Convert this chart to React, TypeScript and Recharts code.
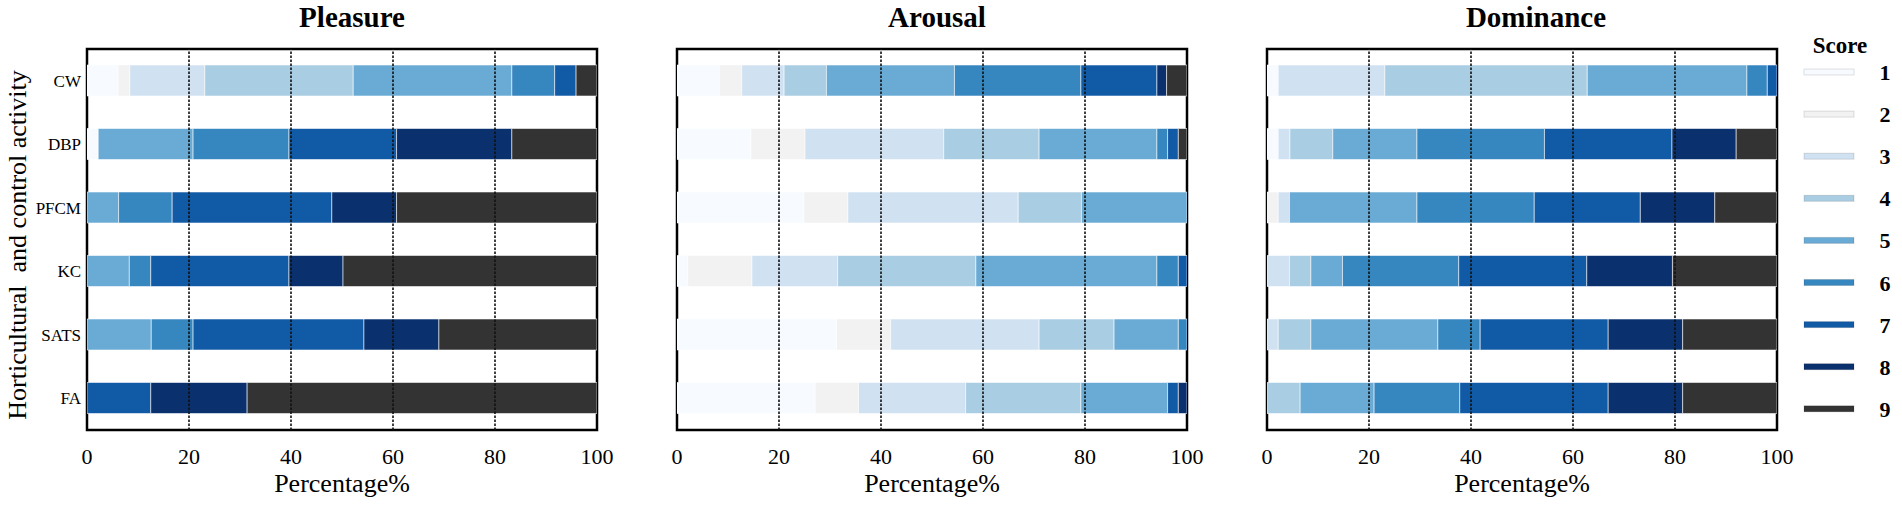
import React from "react";
import {
  BarChart,
  Bar,
  XAxis,
  YAxis,
  ReferenceLine,
  ReferenceArea,
} from "recharts";

// rows, top to bottom
const categories = ["CW", "DBP", "PFCM", "KC", "SATS", "FA"];
const scores = [1, 2, 3, 4, 5, 6, 7, 8, 9];
const percentTicks = [0, 20, 40, 60, 80, 100];
const gridTicks = [20, 40, 60, 80];

// percentage of each score (1..9) per row
const pleasure = [
  [6.1, 2.3, 14.7, 29.1, 31.1, 8.4, 4.2, 0, 4.1],
  [2.2, 0, 0, 0, 18.6, 18.8, 21.1, 22.6, 16.7],
  [0, 0, 0, 0, 6.2, 10.5, 31.3, 12.7, 39.3],
  [0, 0, 0, 0, 8.3, 4.2, 27.1, 10.6, 49.8],
  [0, 0, 0, 0, 12.6, 8.2, 33.5, 14.7, 31.0],
  [0, 0, 0, 0, 0, 0, 12.5, 18.9, 68.6],
];

const arousal = [
  [8.3, 4.4, 8.3, 8.3, 25.1, 24.8, 14.9, 1.9, 4.0],
  [14.5, 10.6, 27.2, 18.7, 23.1, 2.1, 2.1, 0, 1.7],
  [24.9, 8.6, 33.4, 12.4, 20.7, 0, 0, 0, 0],
  [2.1, 12.6, 16.8, 27.1, 35.5, 4.2, 1.7, 0, 0],
  [31.3, 10.6, 29.1, 14.7, 12.6, 1.7, 0, 0, 0],
  [27.1, 8.5, 21.0, 22.6, 17.0, 0, 2.1, 1.7, 0],
];

const dominance = [
  [2.2, 0, 20.9, 39.7, 31.3, 4.0, 1.9, 0, 0],
  [2.2, 0, 2.3, 8.4, 16.5, 25.0, 25.0, 12.6, 8.0],
  [0, 2.2, 2.2, 0, 25.0, 23.0, 20.8, 14.6, 12.2],
  [0, 0, 4.4, 4.2, 6.2, 22.8, 25.1, 16.8, 20.5],
  [0, 0, 2.2, 6.4, 24.9, 8.3, 25.1, 14.6, 18.5],
  [0, 0, 0, 6.5, 14.5, 16.8, 29.1, 14.6, 18.5],
];

const SCORE_COLORS = [
  "#f7fbff",
  "#f2f2f2",
  "#d0e1f2",
  "#a9cde3",
  "#69abd5",
  "#3686c0",
  "#105aa6",
  "#0a316e",
  "#333333",
];

const FONT = '"Liberation Serif", "Times New Roman", serif';

const buildRows = (values: number[][]) =>
  categories.map((name, i) => {
    const row: Record<string, string | number> = { name };
    scores.forEach((s, j) => {
      row[`s${s}`] = values[i][j];
    });
    return row;
  });

interface PanelProps {
  values: number[][];
  left: number;
  width: number;
  showCategories: boolean;
}

const Panel = ({ values, left, width, showCategories }: PanelProps) => {
  const data = buildRows(values);
  return (
    <div style={{ position: "absolute", left, top: 0 }}>
      <BarChart
        width={width}
        height={505}
        data={data}
        layout="vertical"
        margin={{ top: 49, right: 23, bottom: 0, left: showCategories ? 7 : 57 }}
      >
        <XAxis
          type="number"
          domain={[0, 100]}
          ticks={percentTicks}
          allowDataOverflow
          height={75}
          tickLine={false}
          tickMargin={12}
          axisLine={false}
          tick={{ fontSize: 22, fill: "#000", fontFamily: FONT }}
          label={{
            value: "Percentage%",
            position: "insideBottom",
            offset: 13,
            style: { fontSize: 26, fill: "#000", fontFamily: FONT },
          }}
        />
        <YAxis
          type="category"
          dataKey="name"
          width={showCategories ? 80 : 0}
          tickLine={false}
          tickMargin={0}
          axisLine={false}
          tick={showCategories ? { fontSize: 17, fill: "#000", fontFamily: FONT } : false}
        />
        {scores.map((s, j) => (
          <Bar
            key={s}
            dataKey={`s${s}`}
            stackId="score"
            barSize={31}
            fill={SCORE_COLORS[j]}
            stroke="#ffffff"
            strokeOpacity={0.55}
            strokeWidth={1}
            isAnimationActive={false}
          />
        ))}
        {gridTicks.map((t) => (
          <ReferenceLine
            key={t}
            x={t}
            stroke="#111"
            strokeWidth={1.6}
            strokeDasharray="2.5 1.5"
          />
        ))}
        {/* plot frame */}
        <ReferenceArea
          x1={0}
          x2={100}
          fill="none"
          fillOpacity={0}
          stroke="#000"
          strokeWidth={2.5}
        />
      </BarChart>
    </div>
  );
};

const titles = [
  { text: "Pleasure", x: 352 },
  { text: "Arousal", x: 937 },
  { text: "Dominance", x: 1536 },
];

const Decorations = () => (
  <svg
    width={1902}
    height={505}
    style={{ position: "absolute", left: 0, top: 0, pointerEvents: "none" }}
    fontFamily={FONT}
  >
    {titles.map((t) => (
      <text
        key={t.text}
        x={t.x}
        y={27}
        textAnchor="middle"
        fontSize={29}
        fontWeight="bold"
        fill="#000"
      >
        {t.text}
      </text>
    ))}
    <text
      transform="translate(26,245) rotate(-90)"
      textAnchor="middle"
      fontSize={26}
      fill="#000"
      style={{ whiteSpace: "pre" }}
    >
      {"Horticultural  and control activity"}
    </text>
    <text x={1840} y={53} textAnchor="middle" fontSize={23} fontWeight="bold" fill="#000">
      Score
    </text>
    {scores.map((s, j) => {
      const cy = 72 + j * 42.1;
      return (
        <g key={s}>
          <rect
            x={1804}
            y={cy - 3}
            width={50}
            height={6}
            fill={SCORE_COLORS[j]}
            stroke="#000"
            strokeOpacity={0.12}
            strokeWidth={1}
          />
          <text x={1885} y={cy + 8} textAnchor="middle" fontSize={22} fontWeight="bold" fill="#000">
            {s}
          </text>
        </g>
      );
    })}
  </svg>
);

export default function App() {
  return (
    <div
      style={{
        position: "absolute",
        left: 0,
        top: 0,
        width: 1902,
        height: 505,
        background: "#fff",
        fontFamily: FONT,
      }}
    >
      <style>{`svg text { font-family: ${FONT}; }`}</style>
      <Panel values={pleasure} left={0} width={620} showCategories />
      <Panel values={arousal} left={620} width={590} showCategories={false} />
      <Panel values={dominance} left={1210} width={590} showCategories={false} />
      <Decorations />
    </div>
  );
}
